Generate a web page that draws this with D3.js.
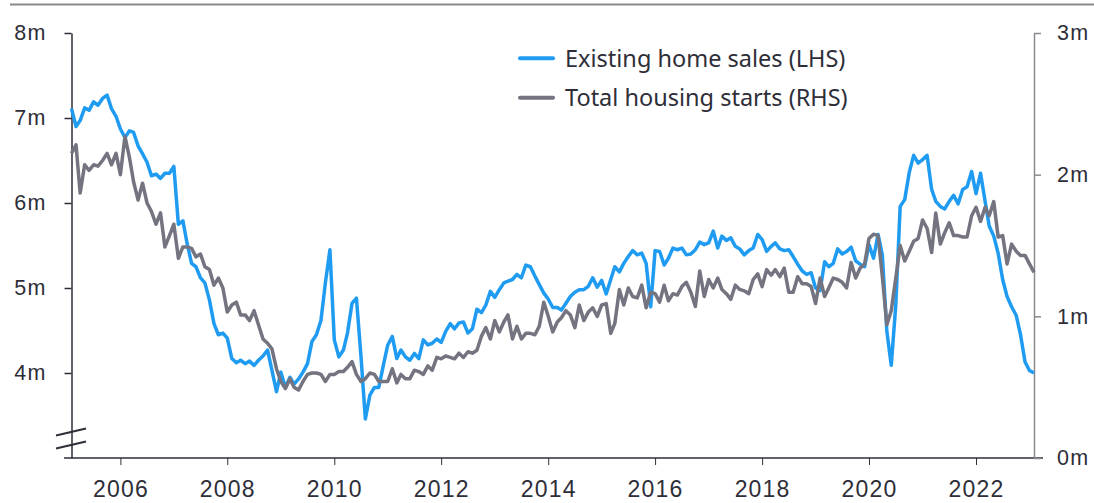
<!DOCTYPE html>
<html>
<head>
<meta charset="utf-8">
<script src="https://d3js.org/d3.v7.min.js"></script>
<style>
  body { margin: 0; background: #fff; }
  svg { display: block; font-family: "Noto Sans", sans-serif; }
</style>
</head>
<body>
<svg width="1094" height="503"></svg>
<script>
// monthly, Jan 2005 .. Jan 2023, millions (SAAR)
let homeSales = [
  7.11, 6.90, 6.97, 7.12, 7.09, 7.19, 7.15, 7.23, 7.27, 7.11, 7.02, 6.87,
  6.77, 6.85, 6.83, 6.67, 6.58, 6.48, 6.32, 6.34, 6.29, 6.35, 6.35, 6.43,
  5.75, 5.79, 5.53, 5.29, 5.25, 5.12, 5.06, 4.86, 4.58, 4.45, 4.47, 4.41,
  4.17, 4.12, 4.15, 4.11, 4.14, 4.09, 4.15, 4.20, 4.27, 4.03, 3.78, 4.01,
  3.83, 3.95, 3.87, 3.93, 4.01, 4.11, 4.37, 4.45, 4.62, 5.06, 5.45, 4.39,
  4.19, 4.27, 4.47, 4.82, 4.88, 4.20, 3.46, 3.74, 3.83, 3.83, 4.09, 4.33,
  4.43, 4.17, 4.27, 4.19, 4.15, 4.23, 4.17, 4.39, 4.33, 4.35, 4.40, 4.36,
  4.49, 4.58, 4.52, 4.59, 4.60, 4.47, 4.52, 4.75, 4.71, 4.80, 4.96, 4.89,
  4.98, 5.06, 5.08, 5.10, 5.16, 5.12, 5.27, 5.25, 5.14, 5.04, 4.94, 4.87,
  4.77, 4.77, 4.74, 4.82, 4.90, 4.95, 4.98, 4.98, 5.02, 5.12, 5.01, 5.09,
  4.93, 5.10, 5.25, 5.19, 5.29, 5.37, 5.44, 5.39, 5.41, 5.29, 4.78, 5.44,
  5.43, 5.27, 5.35, 5.47, 5.45, 5.47, 5.39, 5.40, 5.45, 5.54, 5.51, 5.53,
  5.67, 5.47, 5.61, 5.56, 5.59, 5.49, 5.46, 5.39, 5.44, 5.47, 5.63, 5.57,
  5.43, 5.49, 5.53, 5.46, 5.44, 5.45, 5.37, 5.28, 5.20, 5.16, 5.18, 5.00,
  4.97, 5.31, 5.25, 5.29, 5.46, 5.40, 5.43, 5.48, 5.32, 5.28, 5.25, 5.51,
  5.35, 5.63, 5.39, 4.49, 4.09, 4.80, 5.96, 6.04, 6.36, 6.56, 6.47, 6.51,
  6.56, 6.16, 6.02, 5.96, 5.93, 6.02, 6.09, 5.99, 6.16, 6.19, 6.37, 6.11,
  6.35, 6.02, 5.73, 5.61, 5.41, 5.10, 4.90, 4.78, 4.68, 4.45, 4.13, 4.03,
  4.00
];

let housingStarts = [
  2.15, 2.21, 1.87, 2.07, 2.03, 2.07, 2.06, 2.10, 2.15, 2.07, 2.15, 2.00,
  2.27, 2.12, 1.95, 1.82, 1.94, 1.80, 1.74, 1.65, 1.73, 1.49, 1.57, 1.65,
  1.41, 1.49, 1.49, 1.48, 1.42, 1.44, 1.35, 1.33, 1.22, 1.27, 1.20, 1.03,
  1.08, 1.10, 1.01, 1.01, 0.97, 1.04, 0.94, 0.84, 0.81, 0.77, 0.63, 0.54,
  0.49, 0.56, 0.50, 0.48, 0.54, 0.59, 0.60, 0.60, 0.59, 0.54, 0.59, 0.59,
  0.61, 0.61, 0.64, 0.68, 0.59, 0.54, 0.56, 0.60, 0.59, 0.54, 0.54, 0.54,
  0.63, 0.53, 0.59, 0.56, 0.56, 0.62, 0.61, 0.59, 0.65, 0.62, 0.71, 0.70,
  0.72, 0.71, 0.70, 0.74, 0.71, 0.75, 0.74, 0.76, 0.86, 0.92, 0.84, 0.97,
  0.89, 0.96, 1.01, 0.84, 0.93, 0.84, 0.88, 0.88, 0.87, 0.93, 1.10, 1.00,
  0.89, 0.96, 0.99, 1.04, 1.01, 0.92, 1.08, 0.97, 1.03, 1.06, 1.00, 1.08,
  1.09, 0.88, 0.95, 1.19, 1.08, 1.20, 1.14, 1.13, 1.22, 1.06, 1.17, 1.16,
  1.10, 1.22, 1.11, 1.16, 1.15, 1.21, 1.24, 1.17, 1.07, 1.32, 1.14, 1.26,
  1.20, 1.27, 1.19, 1.16, 1.12, 1.22, 1.19, 1.18, 1.16, 1.26, 1.30, 1.21,
  1.33, 1.29, 1.33, 1.28, 1.34, 1.17, 1.17, 1.28, 1.23, 1.23, 1.21, 1.09,
  1.27, 1.14, 1.20, 1.27, 1.26, 1.24, 1.20, 1.38, 1.27, 1.34, 1.37, 1.55,
  1.58, 1.57, 1.28, 0.94, 1.04, 1.27, 1.50, 1.39, 1.46, 1.53, 1.55, 1.68,
  1.62, 1.45, 1.73, 1.51, 1.59, 1.66, 1.57, 1.57, 1.56, 1.56, 1.71, 1.77,
  1.67, 1.77, 1.71, 1.81, 1.56, 1.57, 1.37, 1.51, 1.46, 1.43, 1.43, 1.37,
  1.31
];

let months = d3.timeMonth.range(new Date(2005, 0, 1), new Date(2023, 1, 1));
let yearTicks = [2006, 2008, 2010, 2012, 2014, 2016, 2018, 2020, 2022];
let leftTicks = [4, 5, 6, 7, 8];
let rightTicks = [0, 1, 2, 3];
let seriesNames = ["Existing home sales (LHS)", "Total housing starts (RHS)"];

let blue = "#1f9cf2",
  grey = "#747480",
  ink = "#2e2e38";

let svg = d3.select("svg"),
  plotLeft = 71.5,
  plotRight = 1034,
  plotTop = 33,
  plotBottom = 458;

let xScale = d3.scaleTime().domain([months[0], months[months.length - 1]]).range([plotLeft, plotRight]),
  yLeft = d3.scaleLinear().domain([3, 8]).range([plotBottom, plotTop]),
  yRight = d3.scaleLinear().domain([0, 3]).range([plotBottom, plotTop]);

// thin rule along the top
svg.append("line")
  .attr("x1", 10).attr("x2", 1094)
  .attr("y1", 4.5).attr("y2", 4.5)
  .attr("stroke", "#8a8a90").attr("stroke-width", 2);

// x axis: the year ticks sit on December of the year before
let xAxis = svg.append("g")
  .attr("transform", "translate(0," + plotBottom + ")")
  .call(d3.axisBottom(xScale)
    .tickValues(yearTicks.map(y => new Date(y - 1, 11, 1)))
    .tickFormat(d => d.getFullYear() + 1)
    .tickSize(7).tickSizeOuter(0).tickPadding(16));
xAxis.select(".domain").remove();
xAxis.append("line")
  .attr("x1", 64).attr("x2", 1043)
  .attr("stroke", ink).attr("stroke-width", 1.5);
xAxis.selectAll(".tick line").attr("stroke", ink);
xAxis.selectAll("text")
  .attr("fill", ink).style("font-size", "23px").style("letter-spacing", "1.2px");

let leftAxis = svg.append("g")
  .attr("transform", "translate(" + plotLeft + ",0)")
  .call(d3.axisLeft(yLeft)
    .tickValues(leftTicks)
    .tickFormat(d => d + "m")
    .tickSize(7).tickSizeOuter(0).tickPadding(18));
leftAxis.selectAll(".domain, .tick line").attr("stroke", ink).attr("stroke-width", 1.5);
leftAxis.selectAll("text")
  .attr("fill", ink).style("font-size", "21.5px").style("letter-spacing", "1.2px");

let rightAxis = svg.append("g")
  .attr("transform", "translate(" + plotRight + ",0)")
  .call(d3.axisRight(yRight)
    .tickValues(rightTicks)
    .tickFormat(d => d + "m")
    .tickSize(7).tickSizeOuter(0).tickPadding(16));
rightAxis.selectAll(".domain, .tick line").attr("stroke", "#8a8a90").attr("stroke-width", 1.5);
rightAxis.selectAll("text")
  .attr("fill", ink).style("font-size", "21.5px").style("letter-spacing", "1.2px");

// axis break on the left scale
[0, 13].forEach(function (off) {
  svg.append("line")
    .attr("x1", 56).attr("y1", 435.5 + off)
    .attr("x2", 86).attr("y2", 428.5 + off)
    .attr("stroke", ink).attr("stroke-width", 1.8);
});

let salesLine = d3.line()
  .x((d, i) => xScale(months[i]))
  .y(d => yLeft(d));

let startsLine = d3.line()
  .x((d, i) => xScale(months[i]))
  .y(d => yRight(d));

svg.append("path")
  .datum(homeSales)
  .attr("d", salesLine)
  .attr("fill", "none")
  .attr("stroke", blue)
  .attr("stroke-width", 3.5)
  .attr("stroke-linejoin", "round");

svg.append("path")
  .datum(housingStarts)
  .attr("d", startsLine)
  .attr("fill", "none")
  .attr("stroke", grey)
  .attr("stroke-width", 3.5)
  .attr("stroke-linejoin", "round");

// legend
let legend = svg.append("g")
  .selectAll("g")
  .data(seriesNames)
  .enter()
  .append("g")
  .attr("transform", (d, i) => "translate(520," + (58.3 + i * 39.5) + ")");

legend.append("line")
  .attr("x1", 0).attr("x2", 33)
  .attr("stroke", (d, i) => (i == 0 ? blue : grey))
  .attr("stroke-width", 4)
  .attr("stroke-linecap", "round");

legend.append("text")
  .attr("x", 45)
  .attr("y", 8.2)
  .attr("fill", ink)
  .style("font-size", "23.5px")
  .text(d => d);
</script>
</body>
</html>
